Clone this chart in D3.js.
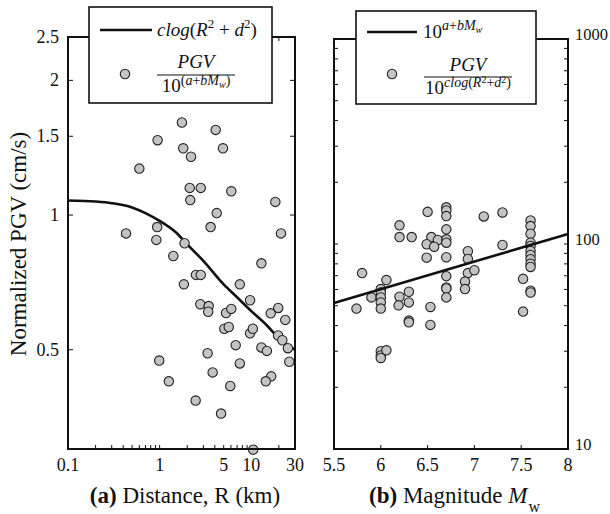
<!DOCTYPE html>
<html><head><meta charset="utf-8">
<script src="https://cdn.jsdelivr.net/npm/d3@7"></script>
<style>body{margin:0;background:#fff}svg{display:block}</style>
</head><body><svg id="c" width="610" height="514"></svg>
<script>
// ---- Panel (a): distance ----
const distR   = [1.75,4.09,0.95,1.81,4.91,2.20,0.60,2.13,2.81,6.05,2.16,18.3,4.2,0.94,3.6,0.43,21.1,0.92,1.87,1.41,12.9,2.49,2.81,1.84,7.5,9.7,2.78,3.43,3.39,5.3,6.05,16.3,19.7,23.5,5.08,5.68,9.7,10.4,19.6,21.8,25.1,26,6.76,12.9,14.8,3.34,0.99,7.5,3.79,1.26,16.5,14.4,5.9,2.47,4.68,10.5];
const distPGV = [1.61,1.55,1.47,1.41,1.41,1.35,1.27,1.15,1.15,1.13,1.08,1.07,1.01,0.94,0.94,0.91,0.91,0.88,0.865,0.81,0.78,0.735,0.735,0.70,0.70,0.645,0.632,0.626,0.608,0.604,0.617,0.603,0.62,0.583,0.557,0.562,0.544,0.557,0.538,0.525,0.504,0.47,0.512,0.506,0.497,0.491,0.473,0.466,0.445,0.425,0.436,0.425,0.415,0.385,0.36,0.299];
const curveR   = [0.1,0.2,0.3,0.5,0.7,1,1.5,2,3,5,7,10,15,20,30];
const curvePGV = [1.078,1.072,1.063,1.04,1.01,0.97,0.915,0.86,0.79,0.70,0.655,0.61,0.565,0.53,0.50];
const xTicksA = [0.1,1,5,10,30];
const xMinorA = [0.2,0.3,0.4,0.5,0.6,0.7,0.8,0.9,2,3,4,6,7,8,9,20];
const yTicksA = [0.5,1,1.5,2,2.5];

// ---- Panel (b): magnitude ----
const magM   = [6.7,6.7,6.7,6.5,7.1,7.3,7.6,7.6,7.6,7.6,7.6,7.6,7.6,7.6,7.6,7.6,7.6,7.6,7.52,7.52,6.2,6.2,6.33,6.54,6.61,6.49,6.57,6.7,6.7,6.7,6.7,6.7,6.7,6.7,6.7,6.49,6.93,6.93,6.93,7.0,6.9,6.9,7.3,5.8,5.9,6.06,6.0,6.0,6.0,6.0,6.0,5.74,6.2,6.19,6.3,6.3,6.3,6.3,6.53,6.53,6.0,6.0,6.0,6.06];
const magPGV = [151,145.7,136.8,143.5,136.3,142.5,130.3,122.3,112.2,101.5,97.8,92.5,88.4,84.3,80.2,77.3,59.2,58.0,67.6,46.8,123.3,108.1,108.1,108.1,104.6,99.7,97.0,117.9,105.4,101.5,86.2,69.7,61.4,60.7,54.9,85.8,92.2,84.6,72.1,74.5,65.6,60.3,98.9,72.1,54.9,66.7,60.3,58.0,54.9,51.9,48.4,48.4,55.3,50.2,58.5,51.9,42.3,41.5,49.3,40.3,30.0,28.6,27.8,30.3];
const lineM   = [5.5,8];
const linePGV = [51.5,112];
const xTicksB = [5.5,6,6.5,7,7.5,8];
const yTicksB = [10,100,1000];
const yMinorB = [20,30,40,50,60,70,80,90,200,300,400,500,600,700,800,900];

const FONT = '"Liberation Serif", "Times New Roman", serif';
const svg = d3.select("#c").style("font-family", FONT);
const FILL = "#c3c3c3";

function txt(g){ return g.append("text").style("font-family", FONT).attr("fill","#111"); }

function mathText(g, x, y, parts, anchor){
  const t = txt(g).attr("x", x).attr("y", y).attr("text-anchor", anchor||"start");
  let cur = 0;
  parts.forEach(p=>{
    const shift = p.shift||0;
    t.append("tspan").attr("dy", shift-cur).attr("font-size", p.size||19)
      .attr("font-style", p.it?"italic":"normal").text(p.t);
    cur = shift;
  });
  return t;
}

function ticks(g, xs, ys, xVals, xLen, yVals, yLen, top, bottom, left, right){
  xVals.forEach(v=>{
    g.append("line").attr("x1",xs(v)).attr("x2",xs(v)).attr("y1",bottom).attr("y2",bottom-xLen).attr("stroke","#111").attr("stroke-width",1);
    g.append("line").attr("x1",xs(v)).attr("x2",xs(v)).attr("y1",top).attr("y2",top+xLen).attr("stroke","#111").attr("stroke-width",1);
  });
  yVals.forEach(v=>{
    g.append("line").attr("y1",ys(v)).attr("y2",ys(v)).attr("x1",left).attr("x2",left+yLen).attr("stroke","#111").attr("stroke-width",1);
    g.append("line").attr("y1",ys(v)).attr("y2",ys(v)).attr("x1",right).attr("x2",right-yLen).attr("stroke","#111").attr("stroke-width",1);
  });
}

// ===== Panel A =====
const xA = d3.scaleLog().domain([0.1,30]).range([68,295]);
const yA = d3.scaleLog().domain([0.3,2.5]).range([449,37]);
const gA = svg.append("g");
ticks(gA, xA, yA, xTicksA.concat(xMinorA), 4, yTicksA, 5, 37, 449, 68, 295);

gA.append("path").datum(curveR.map((r,i)=>[r,curvePGV[i]]))
  .attr("fill","none").attr("stroke","#111").attr("stroke-width",2.6)
  .attr("d", d3.line().x(d=>xA(d[0])).y(d=>yA(d[1])).curve(d3.curveMonotoneX));

gA.selectAll("circle.p").data(distR.map((r,i)=>[r,distPGV[i]])).join("circle")
  .attr("cx",d=>xA(d[0])).attr("cy",d=>yA(d[1])).attr("r",4.7)
  .attr("fill",FILL).attr("stroke","#222").attr("stroke-width",1.1);

gA.append("rect").attr("x",68).attr("y",37).attr("width",227).attr("height",412)
  .attr("fill","none").attr("stroke","#111").attr("stroke-width",2);

xTicksA.forEach(d=>txt(gA).attr("x",xA(d)).attr("y",471).attr("text-anchor","middle").attr("font-size",18).text(d));
yTicksA.forEach(d=>txt(gA).attr("x",59).attr("y",yA(d)+6).attr("text-anchor","end").attr("font-size",18).text(d));

txt(svg).attr("transform","translate(26,244) rotate(-90)").attr("text-anchor","middle")
  .attr("font-size",23).text("Normalized PGV (cm/s)");

const tA = txt(svg).attr("x",185).attr("y",503).attr("text-anchor","middle").attr("font-size",23);
tA.append("tspan").attr("font-weight","bold").text("(a)");
tA.append("tspan").text(" Distance, R (km)");

// legend A
const lA = svg.append("g");
lA.append("rect").attr("x",89).attr("y",7).attr("width",183).attr("height",96)
  .attr("fill","#fff").attr("stroke","#111").attr("stroke-width",1.6);
lA.append("line").attr("x1",100).attr("x2",152).attr("y1",30).attr("y2",30).attr("stroke","#111").attr("stroke-width",2.6);
mathText(lA,157,36,[
  {t:"clog",it:1},{t:"("},{t:"R",it:1},{t:"2",size:13,shift:-8},{t:" + ",shift:0},{t:"d",it:1},{t:"2",size:13,shift:-8},{t:")",shift:0}
]);
lA.append("circle").attr("cx",125).attr("cy",74).attr("r",4.7).attr("fill",FILL).attr("stroke","#222").attr("stroke-width",1.1);
mathText(lA,196,68,[{t:"PGV",it:1}],"middle");
lA.append("line").attr("x1",157).attr("x2",235).attr("y1",75).attr("y2",75).attr("stroke","#111").attr("stroke-width",1);
mathText(lA,196,92,[
  {t:"10"},{t:"(",size:14,shift:-7},{t:"a",size:14,it:1,shift:-7},{t:"+",size:14,shift:-7},{t:"bM",size:14,it:1,shift:-7},{t:"w",size:10,it:1,shift:-4},{t:")",size:14,shift:-7}
],"middle");

// ===== Panel B =====
const xB = d3.scaleLinear().domain([5.5,8]).range([334,568]);
const yB = d3.scaleLog().domain([10,1000]).range([449,39]);
const gB = svg.append("g");
ticks(gB, xB, yB, xTicksB.slice(1,-1), 4, yMinorB.concat(yTicksB), 4, 39, 449, 334, 568);

gB.selectAll("circle.p").data(magM.map((m,i)=>[m,magPGV[i]])).join("circle")
  .attr("cx",d=>xB(d[0])).attr("cy",d=>yB(d[1])).attr("r",4.7)
  .attr("fill",FILL).attr("stroke","#222").attr("stroke-width",1.1);

gB.append("path").datum(lineM.map((m,i)=>[m,linePGV[i]]))
  .attr("fill","none").attr("stroke","#111").attr("stroke-width",2.6)
  .attr("d", d3.line().x(d=>xB(d[0])).y(d=>yB(d[1])));

gB.append("rect").attr("x",334).attr("y",39).attr("width",234).attr("height",410)
  .attr("fill","none").attr("stroke","#111").attr("stroke-width",2);

xTicksB.forEach(d=>txt(gB).attr("x",xB(d)).attr("y",471).attr("text-anchor","middle").attr("font-size",18).text(d));
yTicksB.forEach(d=>txt(gB).attr("x",575).attr("y",yB(d)+1).attr("text-anchor","start").attr("font-size",16.5).text(d));

const tB = txt(svg).attr("x",369).attr("y",503).attr("font-size",23);
tB.append("tspan").attr("font-weight","bold").text("(b)");
tB.append("tspan").text(" Magnitude ");
tB.append("tspan").attr("font-style","italic").text("M");
tB.append("tspan").attr("dy",9).attr("font-size",16).attr("dx",1).text("w");

// legend B
const lB = svg.append("g");
lB.append("rect").attr("x",356).attr("y",11).attr("width",180).attr("height",93)
  .attr("fill","#fff").attr("stroke","#111").attr("stroke-width",1.6);
lB.append("line").attr("x1",367).attr("x2",417).attr("y1",32).attr("y2",32).attr("stroke","#111").attr("stroke-width",2.6);
mathText(lB,423,38,[
  {t:"10"},{t:"a",size:14,it:1,shift:-8},{t:"+",size:14,shift:-8},{t:"bM",size:14,it:1,shift:-8},{t:"w",size:10,it:1,shift:-5}
]);
lB.append("circle").attr("cx",392).attr("cy",74).attr("r",4.7).attr("fill",FILL).attr("stroke","#222").attr("stroke-width",1.1);
mathText(lB,468,71,[{t:"PGV",it:1}],"middle");
lB.append("line").attr("x1",424).attr("x2",512).attr("y1",77).attr("y2",77).attr("stroke","#111").attr("stroke-width",1);
mathText(lB,468,94,[
  {t:"10"},{t:"clog",size:14,it:1,shift:-7},{t:"(",size:14,shift:-7},{t:"R",size:14,it:1,shift:-7},{t:"2",size:10,shift:-11},{t:"+",size:14,shift:-7},{t:"d",size:14,it:1,shift:-7},{t:"2",size:10,shift:-11},{t:")",size:14,shift:-7}
],"middle");
</script></body></html>
